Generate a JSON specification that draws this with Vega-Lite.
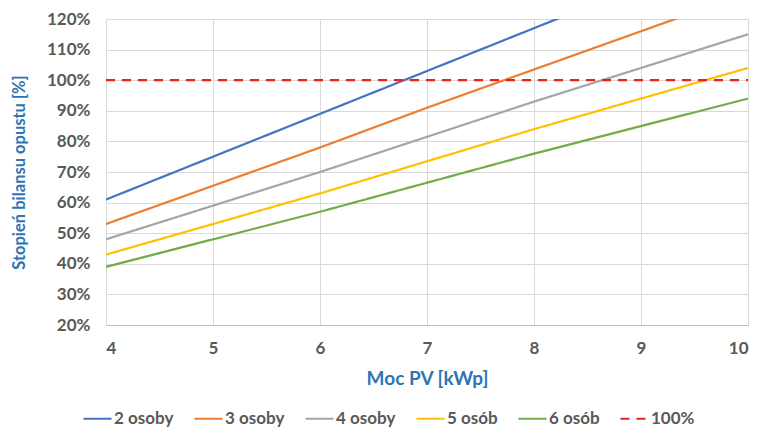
{
  "$schema": "https://vega.github.io/schema/vega-lite/v6.json",
  "autosize": "none",
  "width": 642,
  "height": 306,
  "padding": {"left": 106, "top": 19, "right": 15, "bottom": 105},
  "background": "white",
  "config": {
    "font": "Lato",
    "view": {"stroke": null}
  },
  "data": {
    "values": [
      {"kwp": 4, "value": 61, "series": "2 osoby"},
      {"kwp": 5, "value": 75, "series": "2 osoby"},
      {"kwp": 6, "value": 89, "series": "2 osoby"},
      {"kwp": 7, "value": 103, "series": "2 osoby"},
      {"kwp": 8, "value": 117, "series": "2 osoby"},
      {"kwp": 9, "value": 131, "series": "2 osoby"},
      {"kwp": 10, "value": 145, "series": "2 osoby"},
      {"kwp": 4, "value": 53, "series": "3 osoby"},
      {"kwp": 5, "value": 65.5, "series": "3 osoby"},
      {"kwp": 6, "value": 78, "series": "3 osoby"},
      {"kwp": 7, "value": 91, "series": "3 osoby"},
      {"kwp": 8, "value": 103.5, "series": "3 osoby"},
      {"kwp": 9, "value": 116, "series": "3 osoby"},
      {"kwp": 10, "value": 128.5, "series": "3 osoby"},
      {"kwp": 4, "value": 48, "series": "4 osoby"},
      {"kwp": 5, "value": 59, "series": "4 osoby"},
      {"kwp": 6, "value": 70, "series": "4 osoby"},
      {"kwp": 7, "value": 81.5, "series": "4 osoby"},
      {"kwp": 8, "value": 93, "series": "4 osoby"},
      {"kwp": 9, "value": 104, "series": "4 osoby"},
      {"kwp": 10, "value": 115, "series": "4 osoby"},
      {"kwp": 4, "value": 43, "series": "5 osób"},
      {"kwp": 5, "value": 53, "series": "5 osób"},
      {"kwp": 6, "value": 63, "series": "5 osób"},
      {"kwp": 7, "value": 73.5, "series": "5 osób"},
      {"kwp": 8, "value": 84, "series": "5 osób"},
      {"kwp": 9, "value": 94, "series": "5 osób"},
      {"kwp": 10, "value": 104, "series": "5 osób"},
      {"kwp": 4, "value": 39, "series": "6 osób"},
      {"kwp": 5, "value": 48, "series": "6 osób"},
      {"kwp": 6, "value": 57, "series": "6 osób"},
      {"kwp": 7, "value": 66.5, "series": "6 osób"},
      {"kwp": 8, "value": 76, "series": "6 osób"},
      {"kwp": 9, "value": 85, "series": "6 osób"},
      {"kwp": 10, "value": 94, "series": "6 osób"},
      {"kwp": 4, "value": 100, "series": "100%"},
      {"kwp": 10, "value": 100, "series": "100%"}
    ]
  },
  "mark": {"type": "line", "clip": true},
  "encoding": {
    "x": {
      "field": "kwp",
      "type": "quantitative",
      "scale": {"domain": [4, 10], "nice": false, "zero": false},
      "axis": {
        "values": [4, 5, 6, 7, 8, 9, 10],
        "title": "Moc PV [kWp]",
        "titleFont": "Lato",
        "titleFontSize": 19,
        "titleFontWeight": "bold",
        "titleColor": "#2E74B5",
        "titlePadding": 13,
        "labelFontSize": 17,
        "labelFontWeight": "bold",
        "labelColor": "#595959",
        "labelPadding": 15,
        "ticks": false,
        "domainColor": "#BFBFBF",
        "gridColor": "#D9D9D9",
        "grid": true
      }
    },
    "y": {
      "field": "value",
      "type": "quantitative",
      "scale": {"domain": [20, 120], "nice": false, "zero": false},
      "axis": {
        "values": [20, 30, 40, 50, 60, 70, 80, 90, 100, 110, 120],
        "labelExpr": "datum.value + '%'",
        "title": "Stopień bilansu opustu [%]",
        "titleFont": "Lato",
        "titleFontSize": 16.5,
        "titleFontWeight": "bold",
        "titleColor": "#2E74B5",
        "titlePadding": 19,
        "labelFontSize": 17,
        "labelFontWeight": "bold",
        "labelColor": "#595959",
        "labelPadding": 16,
        "ticks": false,
        "domain": false,
        "gridColor": "#D9D9D9",
        "grid": true
      }
    },
    "color": {
      "field": "series",
      "type": "nominal",
      "scale": {
        "domain": ["2 osoby", "3 osoby", "4 osoby", "5 osób", "6 osób", "100%"],
        "range": ["#4472C4", "#ED7D31", "#A5A5A5", "#FFC000", "#70AD47", "#E8201C"]
      },
      "legend": {
        "title": null,
        "orient": "none",
        "direction": "horizontal",
        "legendX": -24,
        "legendY": 384,
        "symbolType": "stroke",
        "symbolSize": 784,
        "symbolStrokeWidth": 3,
        "labelFontSize": 17,
        "labelFontWeight": "bold",
        "labelColor": "#595959",
        "labelOffset": 1,
        "columnPadding": 16
      }
    },
    "strokeDash": {
      "field": "series",
      "type": "nominal",
      "scale": {
        "domain": ["2 osoby", "3 osoby", "4 osoby", "5 osób", "6 osób", "100%"],
        "range": [[1, 0], [1, 0], [1, 0], [1, 0], [1, 0], [9, 7]]
      },
      "legend": null
    },
    "strokeWidth": {
      "field": "series",
      "type": "nominal",
      "scale": {
        "domain": ["2 osoby", "3 osoby", "4 osoby", "5 osób", "6 osób", "100%"],
        "range": [2.2, 2.2, 2.2, 2.2, 2.2, 3]
      },
      "legend": null
    }
  }
}
